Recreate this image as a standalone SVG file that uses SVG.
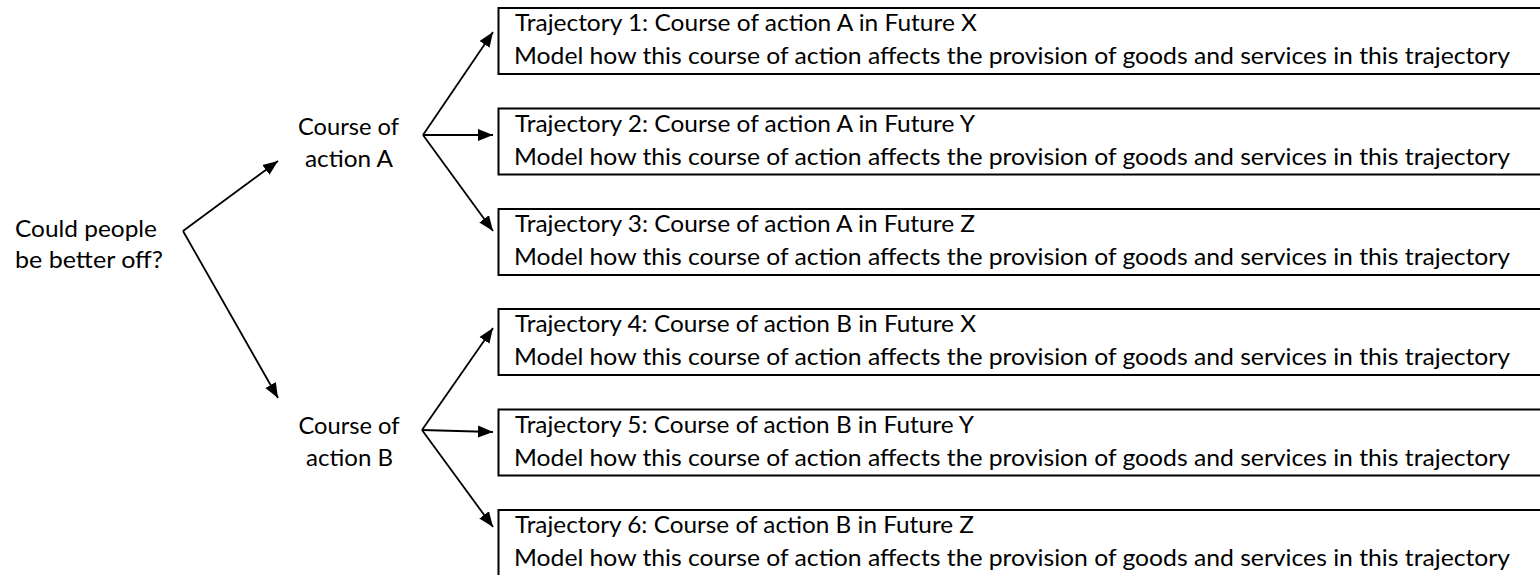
<svg xmlns="http://www.w3.org/2000/svg" width="1540" height="575" viewBox="0 0 1540 575">
  <style>
    text { font-family: Lato, "Open Sans", "Liberation Sans", sans-serif; font-size: 23px; fill: #000; }
    .mid { text-anchor: middle; }
    .box { fill: #fff; stroke: #000; stroke-width: 2; }
    .link { fill: none; stroke: #000; stroke-width: 1.8; marker-end: url(#head); }
  </style>
  <defs>
    <marker id="head" markerUnits="userSpaceOnUse" markerWidth="16" markerHeight="14" viewBox="0 0 16 14" refX="15" refY="7" orient="auto">
      <path d="M0,1 L15,7 L0,13 Z" fill="#000"/>
    </marker>
  </defs>

  <rect width="1540" height="575" fill="#fff"/>

  <!-- connectors -->
  <g id="connectors">
    <line class="link" x1="183" y1="231" x2="278" y2="161"/>
    <line class="link" x1="183" y1="231" x2="278" y2="398"/>
    <line class="link" x1="423" y1="135" x2="493" y2="32"/>
    <line class="link" x1="423" y1="135" x2="493" y2="135"/>
    <line class="link" x1="423" y1="135" x2="493" y2="231"/>
    <line class="link" x1="422" y1="430" x2="493" y2="328"/>
    <line class="link" x1="422" y1="430" x2="493" y2="432"/>
    <line class="link" x1="422" y1="430" x2="493" y2="527"/>
  </g>

  <!-- question -->
  <g id="question">
    <text x="15" y="237" textLength="142" lengthAdjust="spacingAndGlyphs">Could people</text>
    <text x="15" y="268" textLength="148" lengthAdjust="spacingAndGlyphs">be better off?</text>
  </g>

  <!-- courses of action -->
  <g id="course-a">
    <text class="mid" x="348.5" y="135" textLength="101" lengthAdjust="spacingAndGlyphs">Course of</text>
    <text class="mid" x="349" y="167" textLength="88" lengthAdjust="spacingAndGlyphs">action A</text>
  </g>
  <g id="course-b">
    <text class="mid" x="349" y="434" textLength="101" lengthAdjust="spacingAndGlyphs">Course of</text>
    <text class="mid" x="349.5" y="466" textLength="87" lengthAdjust="spacingAndGlyphs">action B</text>
  </g>

  <!-- trajectories -->
  <g id="trajectory-1">
    <rect class="box" x="498.5" y="8" width="1060" height="66"/>
    <text x="515" y="31" textLength="462" lengthAdjust="spacingAndGlyphs">Trajectory 1: Course of action A in Future X</text>
    <text x="514" y="64" textLength="996" lengthAdjust="spacingAndGlyphs">Model how this course of action affects the provision of goods and services in this trajectory</text>
  </g>
  <g id="trajectory-2">
    <rect class="box" x="498.5" y="108.5" width="1060" height="66"/>
    <text x="515" y="131.5" textLength="460" lengthAdjust="spacingAndGlyphs">Trajectory 2: Course of action A in Future Y</text>
    <text x="514" y="164.5" textLength="996" lengthAdjust="spacingAndGlyphs">Model how this course of action affects the provision of goods and services in this trajectory</text>
  </g>
  <g id="trajectory-3">
    <rect class="box" x="498.5" y="209" width="1060" height="66"/>
    <text x="515" y="232" textLength="460" lengthAdjust="spacingAndGlyphs">Trajectory 3: Course of action A in Future Z</text>
    <text x="514" y="265" textLength="996" lengthAdjust="spacingAndGlyphs">Model how this course of action affects the provision of goods and services in this trajectory</text>
  </g>
  <g id="trajectory-4">
    <rect class="box" x="498.5" y="309" width="1060" height="66"/>
    <text x="515" y="332" textLength="461" lengthAdjust="spacingAndGlyphs">Trajectory 4: Course of action B in Future X</text>
    <text x="514" y="365" textLength="996" lengthAdjust="spacingAndGlyphs">Model how this course of action affects the provision of goods and services in this trajectory</text>
  </g>
  <g id="trajectory-5">
    <rect class="box" x="498.5" y="409.5" width="1060" height="66"/>
    <text x="515" y="432.5" textLength="459" lengthAdjust="spacingAndGlyphs">Trajectory 5: Course of action B in Future Y</text>
    <text x="514" y="465.5" textLength="996" lengthAdjust="spacingAndGlyphs">Model how this course of action affects the provision of goods and services in this trajectory</text>
  </g>
  <g id="trajectory-6">
    <rect class="box" x="498.5" y="510" width="1060" height="66"/>
    <text x="515" y="533" textLength="459" lengthAdjust="spacingAndGlyphs">Trajectory 6: Course of action B in Future Z</text>
    <text x="514" y="566" textLength="996" lengthAdjust="spacingAndGlyphs">Model how this course of action affects the provision of goods and services in this trajectory</text>
  </g>
</svg>
